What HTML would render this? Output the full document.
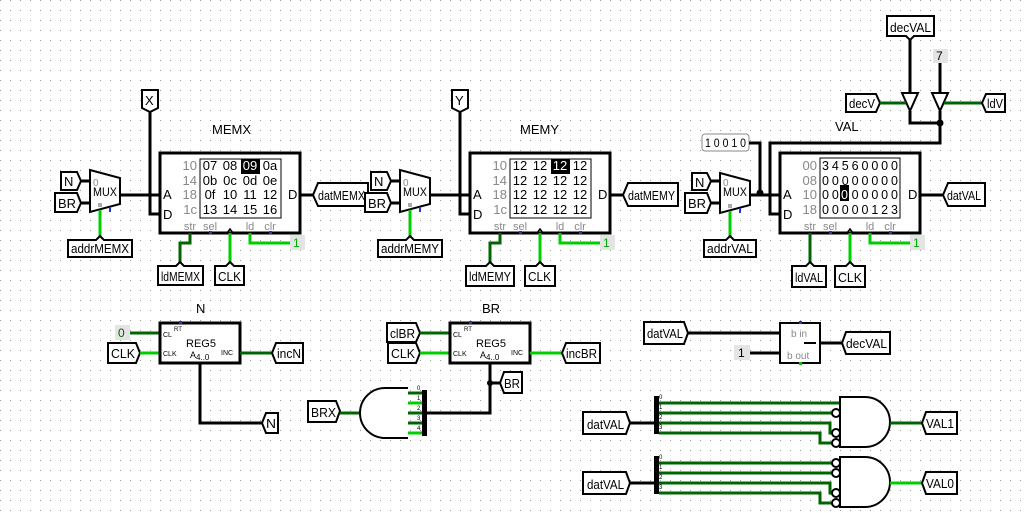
<!DOCTYPE html>
<html><head><meta charset="utf-8"><style>
html,body{margin:0;padding:0;background:#fff}
svg{display:block}
text{font-family:"Liberation Sans",sans-serif}
</style></head><body>
<svg width="1029" height="513" viewBox="0 0 1029 513" xmlns="http://www.w3.org/2000/svg">
<defs>
<pattern id="g" width="10" height="10" patternUnits="userSpaceOnUse"><rect x="0" y="0" width="1" height="1" fill="#9a9a9a"/></pattern>
</defs>
<rect width="1029" height="513" fill="#fff"/>
<rect width="1029" height="513" fill="url(#g)"/>

<g font-size="13" fill="#000">
<!-- ===== MEMX ===== -->
<g>
<text x="212" y="134" font-size="13">MEMX</text>
<polygon points="142,90 158,90 158,108 150,112 142,108" fill="#fff" stroke="#000" stroke-width="2"/>
<text x="145" y="105">X</text>
<polyline points="150,112 150,214 160,214" fill="none" stroke="#000" stroke-width="3"/>
<polygon points="90,170 120,178 120,204 90,212" fill="#fff" stroke="#000" stroke-width="2"/>
<text x="93" y="196" font-size="12" textLength="24" lengthAdjust="spacingAndGlyphs">MUX</text>
<text x="93" y="186" font-size="10" fill="#888">0</text>
<rect x="98" y="203" width="4" height="4" fill="#aaa"/>
<rect x="109" y="207" width="2" height="5" fill="#2233dd"/>
<line x1="120" y1="195" x2="160" y2="195" stroke="#000" stroke-width="3"/>
<line x1="80" y1="181" x2="90" y2="181" stroke="#000" stroke-width="3"/>
<line x1="80" y1="203" x2="90" y2="203" stroke="#000" stroke-width="3"/>
<polygon points="61,172 77,172 81,181 77,190 61,190" fill="#fff" stroke="#000" stroke-width="2"/>
<text x="64" y="186">N</text>
<polygon points="55,193 77,193 81,203 77,212 55,212" fill="#fff" stroke="#000" stroke-width="2"/>
<text x="58" y="208" textLength="18" lengthAdjust="spacingAndGlyphs">BR</text>
<line x1="100" y1="210" x2="100" y2="238" stroke="#00cc00" stroke-width="3"/>
<polygon points="68,240 96,240 100,236 104,240 132,240 132,257 68,257" fill="#fff" stroke="#000" stroke-width="2"/>
<text x="71" y="253" textLength="58" lengthAdjust="spacingAndGlyphs">addrMEMX</text>
<rect x="160" y="153" width="140" height="80" fill="#fff" stroke="#000" stroke-width="3"/>
<rect x="200" y="159" width="81" height="59" fill="#fff" stroke="#000" stroke-width="1"/>
<text x="163" y="199">A</text><text x="163" y="219">D</text><text x="288" y="199">D</text>
<g fill="#888" text-anchor="end"><text x="197" y="170">10</text><text x="197" y="185">14</text><text x="197" y="199">18</text><text x="197" y="214">1c</text></g>
<rect x="241" y="159" width="19" height="15" fill="#000"/>
<g text-anchor="middle">
<text x="210" y="170">07</text><text x="230" y="170">08</text><text x="250" y="170" fill="#fff">09</text><text x="270" y="170">0a</text>
<text x="210" y="185">0b</text><text x="230" y="185">0c</text><text x="250" y="185">0d</text><text x="270" y="185">0e</text>
<text x="210" y="199">0f</text><text x="230" y="199">10</text><text x="250" y="199">11</text><text x="270" y="199">12</text>
<text x="210" y="214">13</text><text x="230" y="214">14</text><text x="250" y="214">15</text><text x="270" y="214">16</text>
</g>
<g fill="#888" font-size="11" text-anchor="middle"><text x="190" y="230">str</text><text x="210" y="230">sel</text><text x="250" y="230">ld</text><text x="270" y="230">clr</text></g>
<polyline points="227,233 230,229 233,233" fill="none" stroke="#000" stroke-width="1.5"/>
<rect x="209" y="231" width="3" height="3" fill="#2233dd"/><rect x="269" y="231" width="3" height="3" fill="#2233dd"/>
<line x1="300" y1="195" x2="313" y2="195" stroke="#000" stroke-width="3"/>
<polygon points="313,195 318,183 368,183 368,206 318,206" fill="#fff" stroke="#000" stroke-width="2"/>
<text x="318" y="200" textLength="47" lengthAdjust="spacingAndGlyphs">datMEMX</text>
<polyline points="190,233 190,243 180,243 180,264" fill="none" stroke="#006400" stroke-width="3"/>
<polygon points="158,266 176,266 180,262 184,266 203,266 203,285 158,285" fill="#fff" stroke="#000" stroke-width="2"/>
<text x="161" y="281" textLength="39" lengthAdjust="spacingAndGlyphs">ldMEMX</text>
<line x1="230" y1="233" x2="230" y2="264" stroke="#00cc00" stroke-width="3"/>
<polygon points="215,266 226,266 230,262 234,266 244,266 244,285 215,285" fill="#fff" stroke="#000" stroke-width="2"/>
<text x="218" y="281" textLength="23" lengthAdjust="spacingAndGlyphs">CLK</text>
<polyline points="250,233 250,243 290,243" fill="none" stroke="#00cc00" stroke-width="3"/>
<rect x="290" y="235" width="15" height="15" fill="#e4e4e4"/>
<text x="293" y="247" fill="#00aa00" font-size="12">1</text>
</g>

<!-- ===== MEMY ===== -->
<g transform="translate(310,0)">
<text x="210" y="134" font-size="13">MEMY</text>
<polygon points="142,90 158,90 158,108 150,112 142,108" fill="#fff" stroke="#000" stroke-width="2"/>
<text x="145" y="105">Y</text>
<polyline points="150,112 150,214 160,214" fill="none" stroke="#000" stroke-width="3"/>
<polygon points="90,170 120,178 120,204 90,212" fill="#fff" stroke="#000" stroke-width="2"/>
<text x="93" y="196" font-size="12" textLength="24" lengthAdjust="spacingAndGlyphs">MUX</text>
<text x="93" y="186" font-size="10" fill="#888">0</text>
<rect x="98" y="203" width="4" height="4" fill="#aaa"/>
<rect x="109" y="207" width="2" height="5" fill="#2233dd"/>
<line x1="120" y1="195" x2="160" y2="195" stroke="#000" stroke-width="3"/>
<line x1="80" y1="181" x2="90" y2="181" stroke="#000" stroke-width="3"/>
<line x1="80" y1="203" x2="90" y2="203" stroke="#000" stroke-width="3"/>
<polygon points="61,172 77,172 81,181 77,190 61,190" fill="#fff" stroke="#000" stroke-width="2"/>
<text x="64" y="186">N</text>
<polygon points="55,193 77,193 81,203 77,212 55,212" fill="#fff" stroke="#000" stroke-width="2"/>
<text x="58" y="208" textLength="18" lengthAdjust="spacingAndGlyphs">BR</text>
<line x1="100" y1="210" x2="100" y2="238" stroke="#00cc00" stroke-width="3"/>
<polygon points="68,240 96,240 100,236 104,240 132,240 132,257 68,257" fill="#fff" stroke="#000" stroke-width="2"/>
<text x="71" y="253" textLength="58" lengthAdjust="spacingAndGlyphs">addrMEMY</text>
<rect x="160" y="153" width="140" height="80" fill="#fff" stroke="#000" stroke-width="3"/>
<rect x="200" y="159" width="81" height="59" fill="#fff" stroke="#000" stroke-width="1"/>
<text x="163" y="199">A</text><text x="163" y="219">D</text><text x="288" y="199">D</text>
<g fill="#888" text-anchor="end"><text x="197" y="170">10</text><text x="197" y="185">14</text><text x="197" y="199">18</text><text x="197" y="214">1c</text></g>
<rect x="241" y="159" width="19" height="15" fill="#000"/>
<g text-anchor="middle">
<text x="210" y="170">12</text><text x="230" y="170">12</text><text x="250" y="170" fill="#fff">12</text><text x="270" y="170">12</text>
<text x="210" y="185">12</text><text x="230" y="185">12</text><text x="250" y="185">12</text><text x="270" y="185">12</text>
<text x="210" y="199">12</text><text x="230" y="199">12</text><text x="250" y="199">12</text><text x="270" y="199">12</text>
<text x="210" y="214">12</text><text x="230" y="214">12</text><text x="250" y="214">12</text><text x="270" y="214">12</text>
</g>
<g fill="#888" font-size="11" text-anchor="middle"><text x="190" y="230">str</text><text x="210" y="230">sel</text><text x="250" y="230">ld</text><text x="270" y="230">clr</text></g>
<polyline points="227,233 230,229 233,233" fill="none" stroke="#000" stroke-width="1.5"/>
<rect x="209" y="231" width="3" height="3" fill="#2233dd"/><rect x="269" y="231" width="3" height="3" fill="#2233dd"/>
<line x1="300" y1="195" x2="313" y2="195" stroke="#000" stroke-width="3"/>
<polygon points="313,195 318,183 368,183 368,206 318,206" fill="#fff" stroke="#000" stroke-width="2"/>
<text x="318" y="200" textLength="47" lengthAdjust="spacingAndGlyphs">datMEMY</text>
<polyline points="190,233 190,243 180,243 180,264" fill="none" stroke="#006400" stroke-width="3"/>
<polygon points="156,266 176,266 180,262 184,266 204,266 204,286 156,286" fill="#fff" stroke="#000" stroke-width="2"/>
<text x="159" y="281" textLength="42" lengthAdjust="spacingAndGlyphs">ldMEMY</text>
<line x1="230" y1="233" x2="230" y2="264" stroke="#00cc00" stroke-width="3"/>
<polygon points="215,266 226,266 230,262 234,266 245,266 245,286 215,286" fill="#fff" stroke="#000" stroke-width="2"/>
<text x="218" y="281" textLength="23" lengthAdjust="spacingAndGlyphs">CLK</text>
<polyline points="250,233 250,243 290,243" fill="none" stroke="#00cc00" stroke-width="3"/>
<rect x="290" y="235" width="15" height="15" fill="#e4e4e4"/>
<text x="293" y="247" fill="#00aa00" font-size="12">1</text>
</g>

<!-- ===== VAL ===== -->
<text x="835" y="131">VAL</text>
<polygon points="887,16 934,16 934,36 914,36 910,40 906,36 887,36" fill="#fff" stroke="#000" stroke-width="2"/>
<text x="890" y="32" textLength="41" lengthAdjust="spacingAndGlyphs">decVAL</text>
<line x1="910" y1="40" x2="910" y2="93" stroke="#000" stroke-width="3"/>
<rect x="933" y="49" width="15" height="14" fill="#e4e4e4"/>
<text x="936" y="60" font-size="12">7</text>
<line x1="940" y1="63" x2="940" y2="93" stroke="#000" stroke-width="3"/>
<polygon points="902,93 918,93 910,111" fill="#fff" stroke="#000" stroke-width="2"/>
<polygon points="932,93 948,93 940,111" fill="#fff" stroke="#000" stroke-width="2"/>
<polyline points="910,111 910,123 940,123" fill="none" stroke="#000" stroke-width="3"/>
<polyline points="940,111 940,143 770,143 770,214 780,214" fill="none" stroke="#000" stroke-width="3"/>
<circle cx="940" cy="123" r="3.5" fill="#000"/>
<polygon points="846,94 876,94 880,103 876,112 846,112" fill="#fff" stroke="#000" stroke-width="2"/>
<text x="849" y="108" textLength="26" lengthAdjust="spacingAndGlyphs">decV</text>
<line x1="880" y1="103" x2="906" y2="103" stroke="#006400" stroke-width="3"/>
<line x1="944" y1="103" x2="982" y2="103" stroke="#006400" stroke-width="3"/>
<polygon points="982,103 986,94 1005,94 1005,112 986,112" fill="#fff" stroke="#000" stroke-width="2"/>
<text x="987" y="108" textLength="16" lengthAdjust="spacingAndGlyphs">ldV</text>
<rect x="702" y="134" width="47" height="17" rx="3" fill="#fff" stroke="#888" stroke-width="1"/>
<text x="705" y="147" font-size="12" textLength="41" lengthAdjust="spacingAndGlyphs">1 0 0 1 0</text>
<polyline points="749,143 760,143 760,195" fill="none" stroke="#000" stroke-width="3"/>
<polygon points="720,173 750,181 750,205 720,213" fill="#fff" stroke="#000" stroke-width="2"/>
<text x="723" y="196" font-size="12" textLength="24" lengthAdjust="spacingAndGlyphs">MUX</text>
<text x="723" y="186" font-size="10" fill="#888">0</text>
<rect x="728" y="204" width="4" height="4" fill="#aaa"/>
<rect x="739" y="208" width="2" height="5" fill="#2233dd"/>
<line x1="750" y1="195" x2="780" y2="195" stroke="#000" stroke-width="3"/>
<circle cx="760" cy="193" r="3.5" fill="#000"/>
<line x1="710" y1="181" x2="720" y2="181" stroke="#000" stroke-width="3"/>
<line x1="710" y1="203" x2="720" y2="203" stroke="#000" stroke-width="3"/>
<polygon points="692,173 707,173 711,181 707,190 692,190" fill="#fff" stroke="#000" stroke-width="2"/>
<text x="695" y="187">N</text>
<polygon points="685,193 707,193 711,203 707,213 685,213" fill="#fff" stroke="#000" stroke-width="2"/>
<text x="688" y="208" textLength="18" lengthAdjust="spacingAndGlyphs">BR</text>
<line x1="730" y1="211" x2="730" y2="238" stroke="#00cc00" stroke-width="3"/>
<polygon points="704,240 726,240 730,236 734,240 756,240 756,257 704,257" fill="#fff" stroke="#000" stroke-width="2"/>
<text x="707" y="253" textLength="46" lengthAdjust="spacingAndGlyphs">addrVAL</text>
<rect x="780" y="153" width="140" height="80" fill="#fff" stroke="#000" stroke-width="3"/>
<rect x="820" y="158" width="80" height="60" fill="#fff" stroke="#000" stroke-width="1"/>
<text x="783" y="199">A</text><text x="783" y="219">D</text><text x="908" y="199">D</text>
<g fill="#888" text-anchor="end"><text x="817" y="170">00</text><text x="817" y="185">08</text><text x="817" y="199">10</text><text x="817" y="214">18</text></g>
<rect x="840" y="185" width="9" height="16" fill="#000"/>
<g font-size="12.5">
<text x="822" y="170" textLength="76">34560000</text>
<text x="822" y="185" textLength="76">00000000</text>
<text x="822" y="199" textLength="76">00000000</text>
<text x="822" y="214" textLength="76">00000123</text>
</g>
<text x="841" y="199" font-size="12.5" fill="#fff">0</text>
<g fill="#888" font-size="11" text-anchor="middle"><text x="810" y="230">str</text><text x="830" y="230">sel</text><text x="870" y="230">ld</text><text x="890" y="230">clr</text></g>
<polyline points="847,233 850,229 853,233" fill="none" stroke="#000" stroke-width="1.5"/>
<rect x="829" y="231" width="3" height="3" fill="#2233dd"/><rect x="889" y="231" width="3" height="3" fill="#2233dd"/>
<line x1="920" y1="195" x2="943" y2="195" stroke="#000" stroke-width="3"/>
<polygon points="943,195 948,183 985,183 985,206 948,206" fill="#fff" stroke="#000" stroke-width="2"/>
<text x="947" y="200" textLength="34" lengthAdjust="spacingAndGlyphs">datVAL</text>
<line x1="810" y1="233" x2="810" y2="265" stroke="#006400" stroke-width="3"/>
<polygon points="792,266 806,266 810,262 814,266 826,266 826,287 792,287" fill="#fff" stroke="#000" stroke-width="2"/>
<text x="795" y="282" textLength="28" lengthAdjust="spacingAndGlyphs">ldVAL</text>
<line x1="850" y1="233" x2="850" y2="265" stroke="#00cc00" stroke-width="3"/>
<polygon points="835,266 846,266 850,262 854,266 865,266 865,287 835,287" fill="#fff" stroke="#000" stroke-width="2"/>
<text x="838" y="282" textLength="24" lengthAdjust="spacingAndGlyphs">CLK</text>
<polyline points="870,233 870,243 910,243" fill="none" stroke="#00cc00" stroke-width="3"/>
<rect x="910" y="235" width="15" height="15" fill="#e4e4e4"/>
<text x="913" y="247" fill="#00aa00" font-size="12">1</text>

<!-- ===== N register ===== -->
<text x="196" y="313">N</text>
<rect x="115" y="325" width="15" height="15" fill="#e4e4e4"/>
<text x="118" y="337" fill="#006400" font-size="12">0</text>
<line x1="130" y1="333" x2="160" y2="333" stroke="#006400" stroke-width="3"/>
<polygon points="108,343 136,343 140,353 136,363 108,363" fill="#fff" stroke="#000" stroke-width="2"/>
<text x="111" y="358" textLength="24" lengthAdjust="spacingAndGlyphs">CLK</text>
<line x1="140" y1="353" x2="160" y2="353" stroke="#00cc00" stroke-width="3"/>
<rect x="160" y="323" width="80" height="40" fill="#fff" stroke="#000" stroke-width="3"/>
<rect x="179" y="321" width="3" height="3" fill="#2233dd"/>
<text x="163" y="337" font-size="7">CL</text><text x="174" y="331" font-size="6">RT</text>
<text x="163" y="356" font-size="7">CLK</text>
<text x="186" y="347" font-size="11">REG5</text>
<text x="190" y="358" font-size="9">A<tspan font-size="8" dy="2">4..0</tspan></text>
<text x="221" y="355" font-size="7">INC</text>
<line x1="240" y1="353" x2="272" y2="353" stroke="#006400" stroke-width="3"/>
<polygon points="272,353 276,343 303,343 303,363 276,363" fill="#fff" stroke="#000" stroke-width="2"/>
<text x="277" y="358" textLength="24" lengthAdjust="spacingAndGlyphs">incN</text>
<polyline points="200,363 200,423 262,423" fill="none" stroke="#000" stroke-width="3"/>
<polygon points="262,423 266,413 278,413 278,433 266,433" fill="#fff" stroke="#000" stroke-width="2"/>
<text x="266" y="428" textLength="10" lengthAdjust="spacingAndGlyphs">N</text>

<!-- ===== BR register ===== -->
<text x="482" y="313">BR</text>
<polygon points="387,323 416,323 420,333 416,342 387,342" fill="#fff" stroke="#000" stroke-width="2"/>
<text x="390" y="338" textLength="25" lengthAdjust="spacingAndGlyphs">clBR</text>
<line x1="420" y1="333" x2="450" y2="333" stroke="#006400" stroke-width="3"/>
<polygon points="388,343 416,343 420,353 416,363 388,363" fill="#fff" stroke="#000" stroke-width="2"/>
<text x="391" y="358" textLength="24" lengthAdjust="spacingAndGlyphs">CLK</text>
<line x1="420" y1="353" x2="450" y2="353" stroke="#00cc00" stroke-width="3"/>
<rect x="450" y="323" width="80" height="40" fill="#fff" stroke="#000" stroke-width="3"/>
<rect x="469" y="321" width="3" height="3" fill="#2233dd"/>
<text x="453" y="337" font-size="7">CL</text><text x="464" y="331" font-size="6">RT</text>
<text x="453" y="356" font-size="7">CLK</text>
<text x="476" y="347" font-size="11">REG5</text>
<text x="480" y="358" font-size="9">A<tspan font-size="8" dy="2">4..0</tspan></text>
<text x="511" y="355" font-size="7">INC</text>
<line x1="530" y1="353" x2="562" y2="353" stroke="#00cc00" stroke-width="3"/>
<polygon points="562,353 566,343 600,343 600,363 566,363" fill="#fff" stroke="#000" stroke-width="2"/>
<text x="566" y="358" textLength="31" lengthAdjust="spacingAndGlyphs">incBR</text>
<polyline points="490,363 490,413 427,413" fill="none" stroke="#000" stroke-width="3"/>
<line x1="490" y1="383" x2="500" y2="383" stroke="#000" stroke-width="3"/>
<circle cx="490" cy="383" r="3" fill="#000"/>
<polygon points="500,383 504,372 522,372 522,393 504,393" fill="#fff" stroke="#000" stroke-width="2"/>
<text x="504" y="388" textLength="16" lengthAdjust="spacingAndGlyphs">BR</text>
<polygon points="308,401 336,401 340,411 336,422 308,422" fill="#fff" stroke="#000" stroke-width="2"/>
<text x="311" y="417" textLength="25" lengthAdjust="spacingAndGlyphs">BRX</text>
<line x1="340" y1="413" x2="360" y2="413" stroke="#006400" stroke-width="3"/>
<path d="M408,388 L385,388 A25,25 0 0 0 385,438 L408,438" fill="#fff" stroke="#000" stroke-width="2"/>
<g stroke-width="3">
<line x1="408" y1="393" x2="422" y2="393" stroke="#006400"/>
<line x1="408" y1="403" x2="422" y2="403" stroke="#00cc00"/>
<line x1="408" y1="413" x2="422" y2="413" stroke="#006400"/>
<line x1="408" y1="423" x2="422" y2="423" stroke="#006400"/>
<line x1="408" y1="433" x2="422" y2="433" stroke="#00cc00"/>
</g>
<rect x="422" y="390" width="5" height="46" fill="#000"/>
<g font-size="6"><text x="417" y="390">0</text><text x="417" y="400">1</text><text x="417" y="410">2</text><text x="417" y="420">3</text><text x="417" y="430">4</text></g>

<!-- ===== dec component ===== -->
<polygon points="644,322 684,322 688,333 684,344 644,344" fill="#fff" stroke="#000" stroke-width="2"/>
<text x="647" y="338" textLength="36" lengthAdjust="spacingAndGlyphs">datVAL</text>
<line x1="688" y1="333" x2="780" y2="333" stroke="#000" stroke-width="3"/>
<rect x="734" y="345" width="16" height="15" fill="#e4e4e4"/>
<text x="738" y="357" font-size="12">1</text>
<line x1="750" y1="353" x2="780" y2="353" stroke="#000" stroke-width="3"/>
<rect x="780" y="323" width="40" height="40" fill="#fff" stroke="#000" stroke-width="2"/>
<rect x="799" y="321" width="3" height="3" fill="#2233dd"/><rect x="799" y="362" width="3" height="3" fill="#00cc00"/>
<text x="791" y="337" font-size="10" fill="#888">b in</text>
<text x="787" y="359" font-size="10" fill="#888">b out</text>
<line x1="804" y1="343" x2="816" y2="343" stroke="#000" stroke-width="2"/>
<line x1="820" y1="343" x2="842" y2="343" stroke="#000" stroke-width="3"/>
<polygon points="842,343 846,332 890,332 890,354 846,354" fill="#fff" stroke="#000" stroke-width="2"/>
<text x="846" y="348" textLength="41" lengthAdjust="spacingAndGlyphs">decVAL</text>

<!-- ===== VAL1 ===== -->
<polygon points="583,412 626,412 630,423 626,434 583,434" fill="#fff" stroke="#000" stroke-width="2"/>
<text x="587" y="429" textLength="37" lengthAdjust="spacingAndGlyphs">datVAL</text>
<line x1="630" y1="423" x2="654" y2="423" stroke="#000" stroke-width="3"/>
<rect x="654" y="396" width="5" height="38" fill="#000"/>
<g font-size="6"><text x="659" y="399">0</text><text x="659" y="409">1</text><text x="659" y="419">2</text><text x="659" y="429">3</text></g>
<g fill="none" stroke="#006400" stroke-width="3">
<line x1="659" y1="403" x2="840" y2="403"/>
<line x1="659" y1="413" x2="832" y2="413"/>
<polyline points="659,423 830,423 830,433 832,433"/>
<polyline points="659,433 820,433 820,443 832,443"/>
</g>
<path d="M840,397 L865,397 A25,25 0 0 1 865,447 L840,447 Z" fill="#fff" stroke="#000" stroke-width="2"/>
<g fill="#fff" stroke="#000" stroke-width="2"><circle cx="836" cy="413" r="4"/><circle cx="836" cy="433" r="4"/><circle cx="836" cy="443" r="4"/></g>
<line x1="890" y1="423" x2="922" y2="423" stroke="#006400" stroke-width="3"/>
<polygon points="922,423 926,412 957,412 957,434 926,434" fill="#fff" stroke="#000" stroke-width="2"/>
<text x="926" y="428" textLength="28" lengthAdjust="spacingAndGlyphs">VAL1</text>

<!-- ===== VAL0 ===== -->
<polygon points="583,472 626,472 630,483 626,494 583,494" fill="#fff" stroke="#000" stroke-width="2"/>
<text x="587" y="489" textLength="37" lengthAdjust="spacingAndGlyphs">datVAL</text>
<line x1="630" y1="483" x2="654" y2="483" stroke="#000" stroke-width="3"/>
<rect x="654" y="456" width="5" height="38" fill="#000"/>
<g font-size="6"><text x="659" y="459">0</text><text x="659" y="469">1</text><text x="659" y="479">2</text><text x="659" y="489">3</text></g>
<g fill="none" stroke="#006400" stroke-width="3">
<line x1="659" y1="463" x2="832" y2="463"/>
<line x1="659" y1="473" x2="832" y2="473"/>
<polyline points="659,483 830,483 830,493 832,493"/>
<polyline points="659,493 820,493 820,503 832,503"/>
</g>
<path d="M840,457 L865,457 A25,25 0 0 1 865,507 L840,507 Z" fill="#fff" stroke="#000" stroke-width="2"/>
<g fill="#fff" stroke="#000" stroke-width="2"><circle cx="836" cy="463" r="4"/><circle cx="836" cy="473" r="4"/><circle cx="836" cy="493" r="4"/><circle cx="836" cy="503" r="4"/></g>
<line x1="890" y1="483" x2="922" y2="483" stroke="#00cc00" stroke-width="3"/>
<polygon points="922,483 926,472 957,472 957,494 926,494" fill="#fff" stroke="#000" stroke-width="2"/>
<text x="926" y="488" textLength="28" lengthAdjust="spacingAndGlyphs">VAL0</text>
</g>
</svg>
</body></html>
